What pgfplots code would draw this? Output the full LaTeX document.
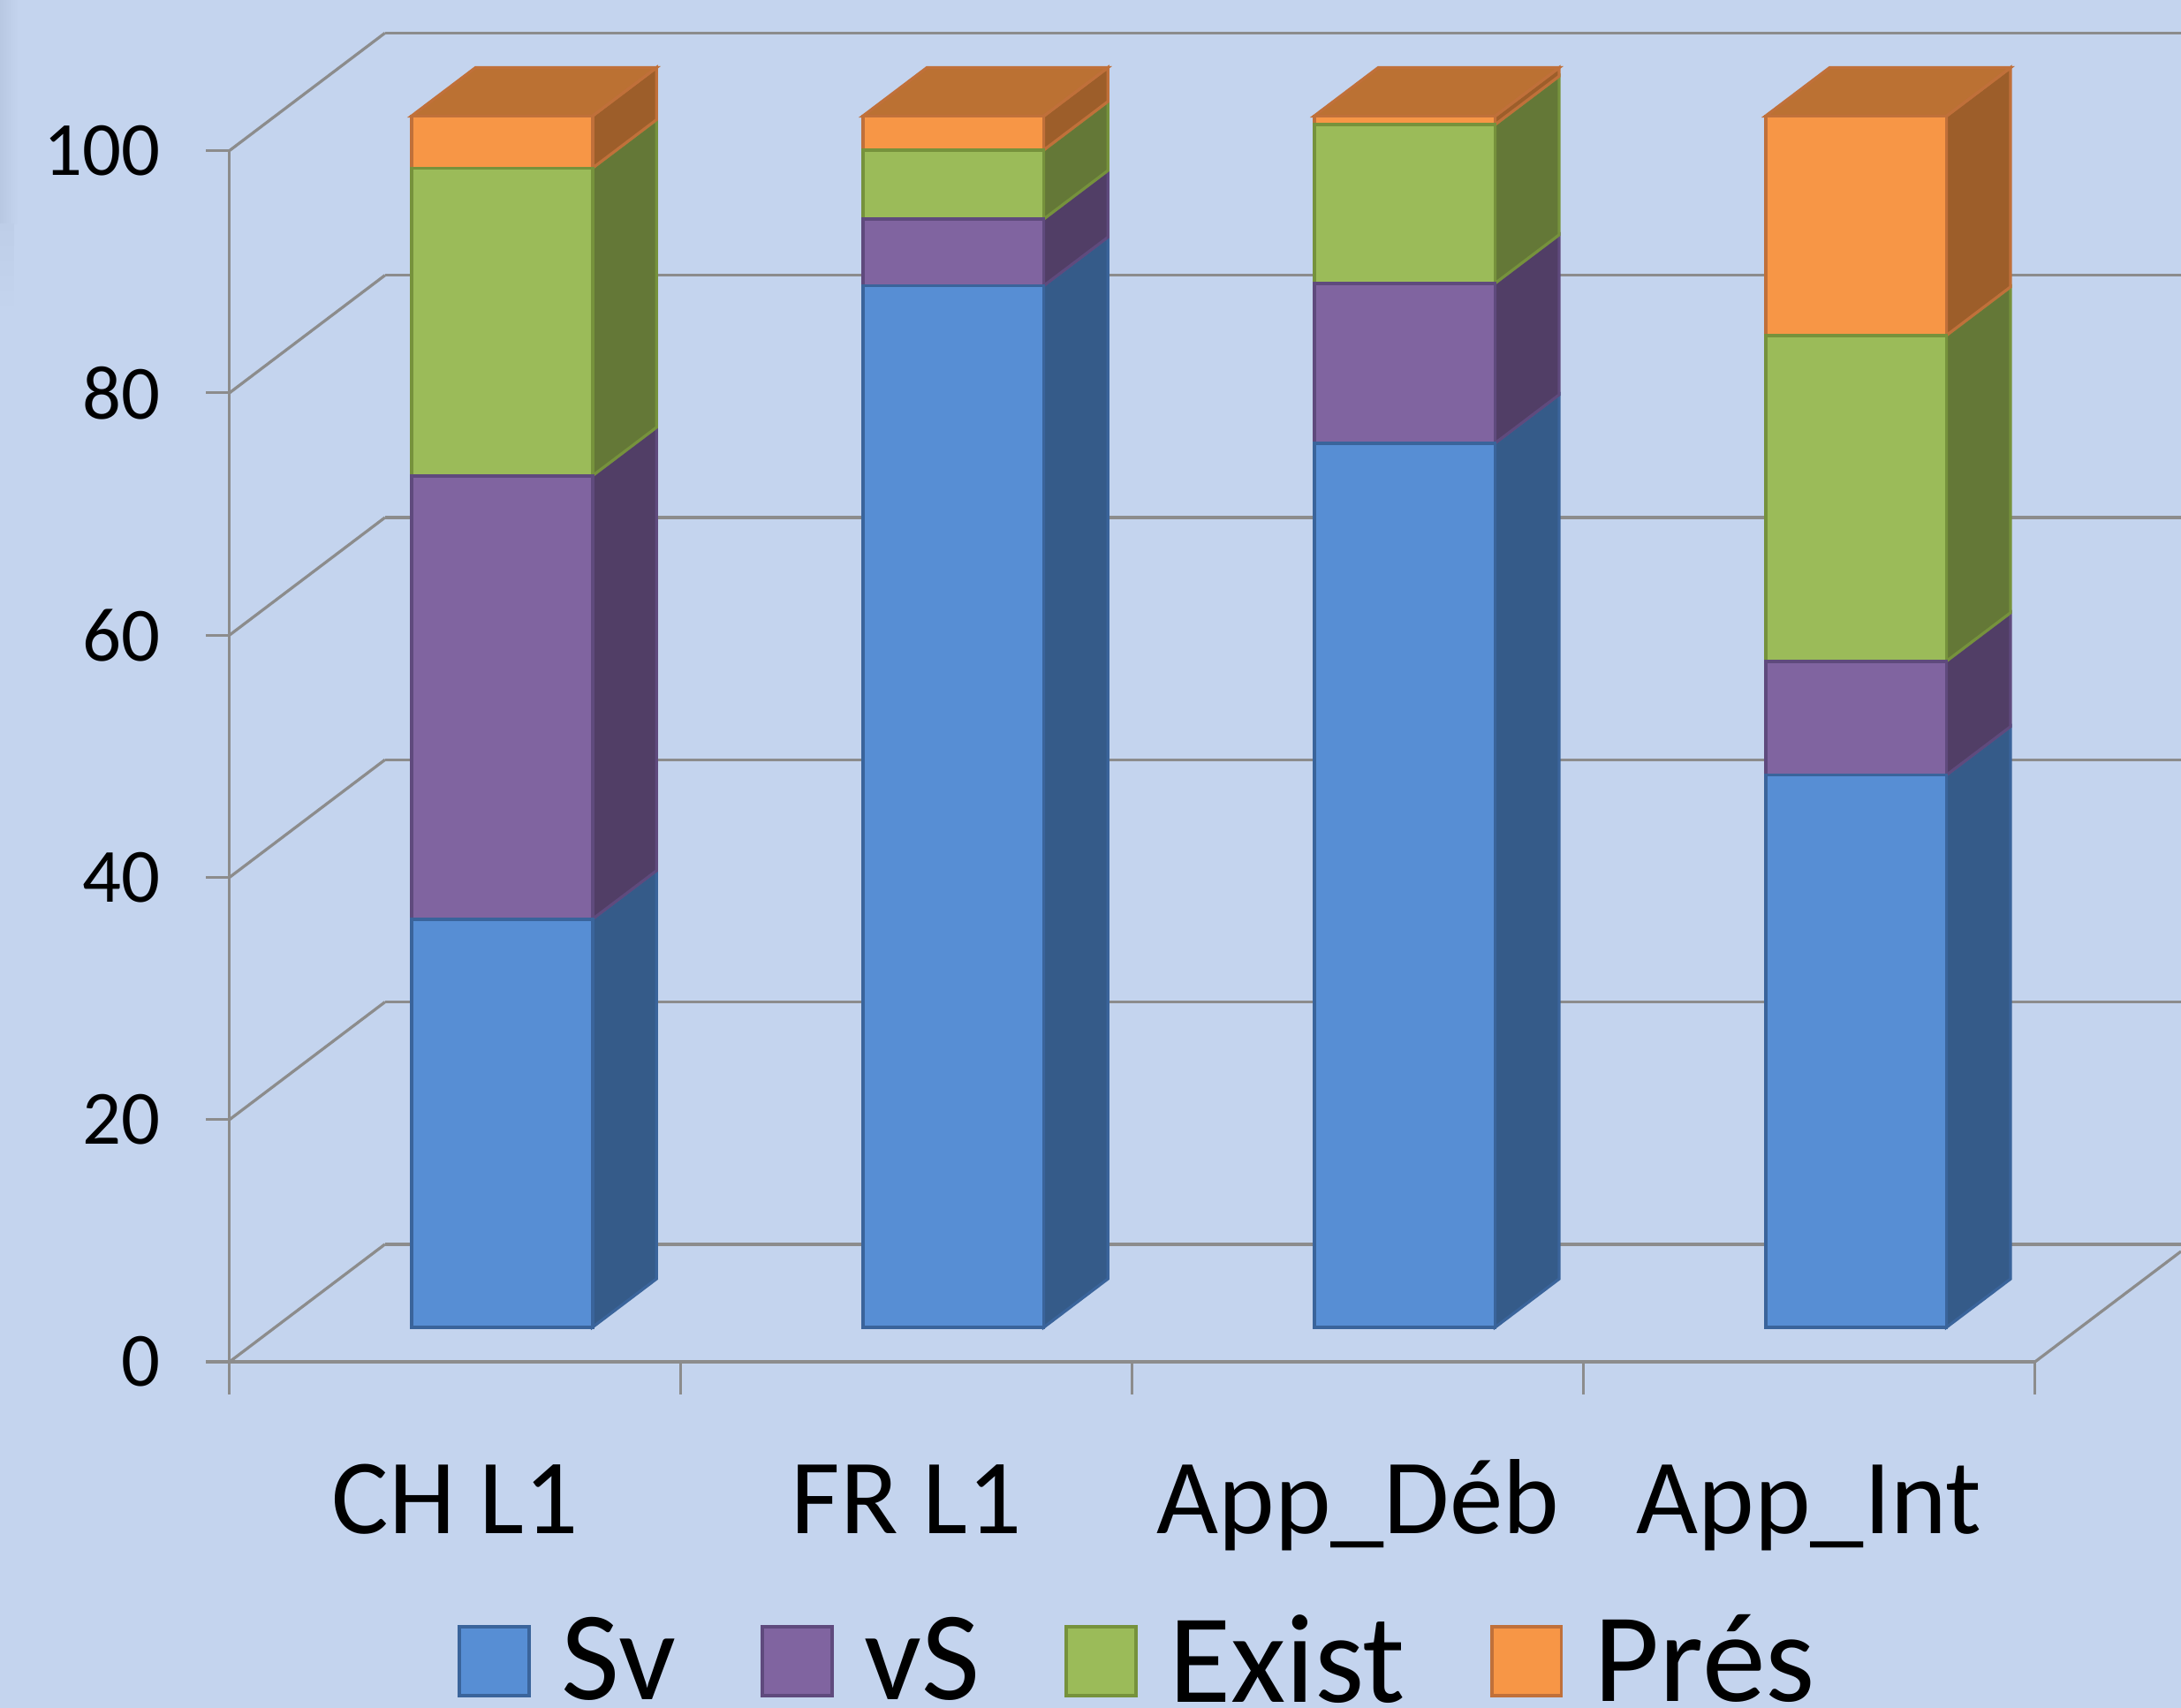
\documentclass[border=0pt]{standalone}
\usepackage{pgfplots}
\pgfplotsset{compat=1.18}
\usepackage{fontspec}
\setmainfont{Carlito}
\definecolor{bg}{HTML}{C4D4EE}
\definecolor{bgdark}{HTML}{B8C8E2}
\definecolor{bgmid}{HTML}{BECEE8}
\definecolor{gridc}{HTML}{8C8C8C}
\definecolor{svF}{HTML}{578ED4}
\definecolor{svS}{HTML}{355B89}
\definecolor{svE}{HTML}{3A649B}
\definecolor{vsF}{HTML}{8064A0}
\definecolor{vsS}{HTML}{513E66}
\definecolor{vsE}{HTML}{5F4A7D}
\definecolor{exF}{HTML}{9BBB59}
\definecolor{exS}{HTML}{647837}
\definecolor{exE}{HTML}{76923C}
\definecolor{prF}{HTML}{F79646}
\definecolor{prS}{HTML}{9D5E2A}
\definecolor{prE}{HTML}{C0703A}
\definecolor{prT}{HTML}{BB7133}
\pgfplotsset{legsq/.style={legend image code/.code={\draw[##1] (0cm,-0.25cm) rectangle (0.51cm,0.26cm); \path[draw=none,fill=none] (0.68cm,0cm);}}}
\begin{document}
\begin{tikzpicture}
\fill[bg] (-1.6837cm,-2.5378cm) rectangle (14.3164cm,9.9932cm);
\shade[left color=bgdark, right color=bg] (-1.6837cm,8.35cm) rectangle (-1.55cm,9.9932cm);
\shade[top color=bgmid, bottom color=bg] (-1.6837cm,7.7cm) rectangle (-1.58cm,8.35cm);
% ---------- axis A: walls, ticks, labels, side and top faces ----------
\begin{axis}[
  scale only axis, width=13.245cm, height=8.888cm,
  xmin=-0.5, xmax=3.5, ymin=0, ymax=100, clip=false,
  axis lines*=left,
  axis line style={gridc, line width=0.6pt},
  ytick style={gridc, line width=0.6pt},
  xtick style={draw=none},
  tick align=outside,
  major tick length=0.1735cm,
  xtick={0,1,2,3}, xticklabels={CH L1, FR L1, App\_Déb, App\_Int},
  ytick={0,20,40,60,80,100},
  /pgf/number format/assume math mode=true,
  yticklabel style={font=\fontsize{16}{19}\selectfont, xshift=-0.21cm},
  xticklabel style={font=\fontsize{22.3}{26}\selectfont, anchor=base, yshift=-1.089cm},
  no markers,
]
% x tick marks between categories
\addplot[color=gridc, line width=0.6pt, forget plot] coordinates {(-0.5,0) (-0.5,-2.7)};
\addplot[color=gridc, line width=0.6pt, forget plot] coordinates {(0.5,0) (0.5,-2.7)};
\addplot[color=gridc, line width=0.6pt, forget plot] coordinates {(1.5,0) (1.5,-2.7)};
\addplot[color=gridc, line width=0.6pt, forget plot] coordinates {(2.5,0) (2.5,-2.7)};
\addplot[color=gridc, line width=0.6pt, forget plot] coordinates {(3.5,0) (3.5,-2.7)};
% back wall horizontals
\addplot[color=gridc, line width=0.6pt, forget plot] coordinates {(-0.1555,9.71) (3.8236,9.71)};
\addplot[color=gridc, line width=0.6pt, forget plot] coordinates {(-0.1555,29.71) (3.8236,29.71)};
\addplot[color=gridc, line width=0.6pt, forget plot] coordinates {(-0.1555,49.71) (3.8236,49.71)};
\addplot[color=gridc, line width=0.6pt, forget plot] coordinates {(-0.1555,69.71) (3.8236,69.71)};
\addplot[color=gridc, line width=0.6pt, forget plot] coordinates {(-0.1555,89.71) (3.8236,89.71)};
\addplot[color=gridc, line width=0.6pt, forget plot] coordinates {(-0.1555,109.71) (3.8236,109.71)};
% left wall diagonals
\addplot[color=gridc, line width=0.6pt, forget plot] coordinates {(-0.5,0) (-0.1555,9.71)};
\addplot[color=gridc, line width=0.6pt, forget plot] coordinates {(-0.5,20) (-0.1555,29.71)};
\addplot[color=gridc, line width=0.6pt, forget plot] coordinates {(-0.5,40) (-0.1555,49.71)};
\addplot[color=gridc, line width=0.6pt, forget plot] coordinates {(-0.5,60) (-0.1555,69.71)};
\addplot[color=gridc, line width=0.6pt, forget plot] coordinates {(-0.5,80) (-0.1555,89.71)};
\addplot[color=gridc, line width=0.6pt, forget plot] coordinates {(-0.5,100) (-0.1555,109.71)};
% right floor edge
\addplot[color=gridc, line width=0.6pt, forget plot] coordinates {(3.5,0) (3.8236,9.12)};
% side faces, bar 0 (CH L1)
\addplot[fill=svS, draw=svE, line width=0.6pt, forget plot] coordinates {(0.304,2.85) (0.446,6.85) (0.446,40.55) (0.304,36.55)} --cycle;
\addplot[fill=vsS, draw=vsE, line width=0.6pt, forget plot] coordinates {(0.304,36.55) (0.446,40.55) (0.446,77.15) (0.304,73.15)} --cycle;
\addplot[fill=exS, draw=exE, line width=0.6pt, forget plot] coordinates {(0.304,73.15) (0.446,77.15) (0.446,102.55) (0.304,98.55)} --cycle;
\addplot[fill=prS, draw=prE, line width=0.6pt, forget plot] coordinates {(0.304,98.55) (0.446,102.55) (0.446,106.85) (0.304,102.85)} --cycle;
\addplot[fill=prT, draw=prE, line width=0.6pt, forget plot] coordinates {(-0.097,102.85) (0.045,106.85) (0.446,106.85) (0.304,102.85)} --cycle;
% bar 1 (FR L1)
\addplot[fill=svS, draw=svE, line width=0.6pt, forget plot] coordinates {(1.304,2.85) (1.446,6.85) (1.446,92.85) (1.304,88.85)} --cycle;
\addplot[fill=vsS, draw=vsE, line width=0.6pt, forget plot] coordinates {(1.304,88.85) (1.446,92.85) (1.446,98.35) (1.304,94.35)} --cycle;
\addplot[fill=exS, draw=exE, line width=0.6pt, forget plot] coordinates {(1.304,94.35) (1.446,98.35) (1.446,104.05) (1.304,100.05)} --cycle;
\addplot[fill=prS, draw=prE, line width=0.6pt, forget plot] coordinates {(1.304,100.05) (1.446,104.05) (1.446,106.85) (1.304,102.85)} --cycle;
\addplot[fill=prT, draw=prE, line width=0.6pt, forget plot] coordinates {(0.903,102.85) (1.045,106.85) (1.446,106.85) (1.304,102.85)} --cycle;
% bar 2 (App_Deb)
\addplot[fill=svS, draw=svE, line width=0.6pt, forget plot] coordinates {(2.304,2.85) (2.446,6.85) (2.446,79.85) (2.304,75.85)} --cycle;
\addplot[fill=vsS, draw=vsE, line width=0.6pt, forget plot] coordinates {(2.304,75.85) (2.446,79.85) (2.446,93.05) (2.304,89.05)} --cycle;
\addplot[fill=exS, draw=exE, line width=0.6pt, forget plot] coordinates {(2.304,89.05) (2.446,93.05) (2.446,106.15) (2.304,102.15)} --cycle;
\addplot[fill=prS, draw=prE, line width=0.6pt, forget plot] coordinates {(2.304,102.15) (2.446,106.15) (2.446,106.85) (2.304,102.85)} --cycle;
\addplot[fill=prT, draw=prE, line width=0.6pt, forget plot] coordinates {(1.903,102.85) (2.045,106.85) (2.446,106.85) (2.304,102.85)} --cycle;
% bar 3 (App_Int)
\addplot[fill=svS, draw=svE, line width=0.6pt, forget plot] coordinates {(3.304,2.85) (3.446,6.85) (3.446,52.45) (3.304,48.45)} --cycle;
\addplot[fill=vsS, draw=vsE, line width=0.6pt, forget plot] coordinates {(3.304,48.45) (3.446,52.45) (3.446,61.85) (3.304,57.85)} --cycle;
\addplot[fill=exS, draw=exE, line width=0.6pt, forget plot] coordinates {(3.304,57.85) (3.446,61.85) (3.446,88.75) (3.304,84.75)} --cycle;
\addplot[fill=prS, draw=prE, line width=0.6pt, forget plot] coordinates {(3.304,84.75) (3.446,88.75) (3.446,106.85) (3.304,102.85)} --cycle;
\addplot[fill=prT, draw=prE, line width=0.6pt, forget plot] coordinates {(2.903,102.85) (3.045,106.85) (3.446,106.85) (3.304,102.85)} --cycle;
\end{axis}
% ---------- axis B: stacked front faces and legend ----------
\begin{axis}[
  scale only axis, width=13.245cm, height=8.888cm,
  xmin=-0.5, xmax=3.5, ymin=0, ymax=100, clip=false, hide axis,
  ybar stacked, bar width=0.401, bar shift=0.1035,
  legend columns=4,
  legend style={at={(0.505,-0.2477)}, anchor=center, draw=none, fill=none,
    font=\fontsize{26.5}{31}\selectfont,
    /tikz/every even column/.append style={column sep=0.55cm}},
]
\addplot[draw=none, fill=none, forget plot] coordinates {(0,2.85) (1,2.85) (2,2.85) (3,2.85)};
\addplot[fill=svF, draw=svE, line width=0.7pt, legsq] coordinates {(0,33.7) (1,86.0) (2,73.0) (3,45.6)};
\addplot[fill=vsF, draw=vsE, line width=0.7pt, legsq] coordinates {(0,36.6) (1,5.5) (2,13.2) (3,9.4)};
\addplot[fill=exF, draw=exE, line width=0.7pt, legsq] coordinates {(0,25.4) (1,5.7) (2,13.1) (3,26.9)};
\addplot[fill=prF, draw=prE, line width=0.7pt, legsq] coordinates {(0,4.3) (1,2.8) (2,0.7) (3,18.1)};
\legend{Sv, vS, Exist, Prés}
\end{axis}
\pgfresetboundingbox
\path[use as bounding box] (-1.6837cm,-2.5378cm) rectangle (14.3164cm,9.9932cm);
\end{tikzpicture}
\end{document}
